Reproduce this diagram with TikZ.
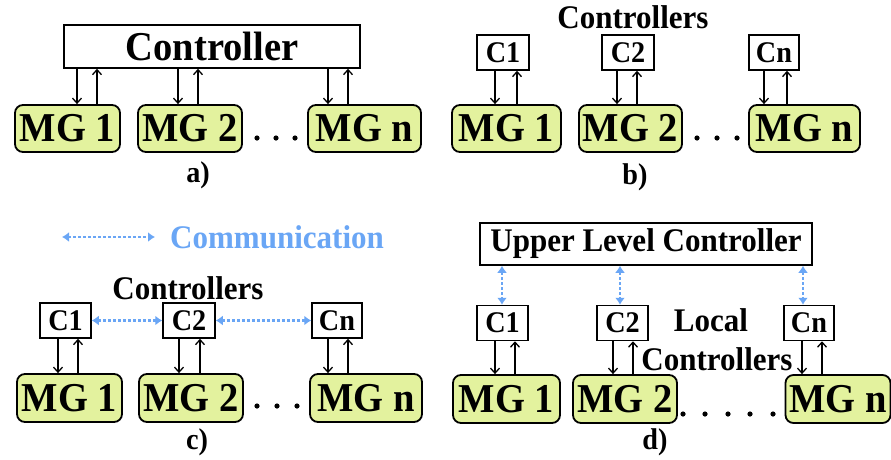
\documentclass[tikz,border=0pt]{standalone}
\usepackage{fontspec}
\setmainfont{Liberation Serif}[BoldFont={Liberation Serif Bold}, BoldFeatures={FakeStretch=0.94}]
\usetikzlibrary{arrows.meta}
\definecolor{mgfill}{RGB}{227,242,158}
\definecolor{comblue}{RGB}{106,166,245}
\tikzset{
  mg/.style={draw=black, line width=1.8pt, fill=mgfill, rounded corners=8pt, minimum height=47pt, inner sep=0pt, font=\fontsize{41}{41}\selectfont\bfseries},
  cbox/.style={draw=black, line width=1.5pt, fill=white, minimum width=51pt, minimum height=35pt, inner sep=0pt, font=\fontsize{30}{30}\selectfont\bfseries},
  bigbox/.style={draw=black, line width=1.5pt, fill=white, inner sep=0pt, font=\fontsize{41}{41}\selectfont\bfseries},
  lbl/.style={inner sep=0pt, font=\fontsize{33}{33}\selectfont\bfseries},
  sublbl/.style={inner sep=0pt, font=\fontsize{30}{30}\selectfont\bfseries},
  arr/.style={line width=1.5pt, -{Straight Barb[length=5pt,width=9pt,line width=1.3pt]}},
  com/.style={comblue, line width=2.5pt, dash pattern=on 2.5pt off 2.5pt, {Latex[length=7pt,width=10pt]}-{Latex[length=7pt,width=10pt]}},
  dotm/.style={fill=black}
}
\begin{document}
\begin{tikzpicture}[x=1pt,y=-1pt]
\useasboundingbox (0,0) rectangle (891,459);
% ---------- panel a ----------
\node[bigbox, minimum width=296pt, minimum height=43pt] (ctrl) at (212,46.5) {Controller};
\node[mg, minimum width=105pt] (a1) at (67.5,128.5) {MG 1};
\node[mg, minimum width=104pt] (a2) at (190,128.5) {MG 2};
\node[mg, minimum width=113pt] (an) at (364.5,128.5) {MG n};
\draw[arr] (77,0 |- ctrl.south) -- (77,0 |- a1.north);
\draw[arr] (97,0 |- a1.north) -- (97,0 |- ctrl.south);
\draw[arr] (178,0 |- ctrl.south) -- (178,0 |- a2.north);
\draw[arr] (198,0 |- a2.north) -- (198,0 |- ctrl.south);
\draw[arr] (328,0 |- ctrl.south) -- (328,0 |- an.north);
\draw[arr] (348,0 |- an.north) -- (348,0 |- ctrl.south);
\foreach \x in {257,276,295} \fill[dotm] (\x,138) circle (2.6);
\node[sublbl] (la) at (198,175) {a)};
% ---------- panel b ----------
\node[lbl] (bctl) at (633,17) {Controllers};
\node[cbox, minimum width=52pt] (b1c) at (503,52.5) {C1};
\node[cbox, minimum width=52pt] (b2c) at (628,52.5) {C2};
\node[cbox, minimum width=50pt] (bnc) at (774,52.5) {Cn};
\node[mg, minimum width=109pt] (b1) at (506.5,128.5) {MG 1};
\node[mg, minimum width=103pt] (b2) at (630.5,128.5) {MG 2};
\node[mg, minimum width=111pt] (bn) at (804.5,128.5) {MG n};
\draw[arr] (495,0 |- b1c.south) -- (495,0 |- b1.north);
\draw[arr] (517,0 |- b1.north) -- (517,0 |- b1c.south);
\draw[arr] (617,0 |- b2c.south) -- (617,0 |- b2.north);
\draw[arr] (637,0 |- b2.north) -- (637,0 |- b2c.south);
\draw[arr] (764,0 |- bnc.south) -- (764,0 |- bn.north);
\draw[arr] (787,0 |- bn.north) -- (787,0 |- bnc.south);
\foreach \x in {697,717,737} \fill[dotm] (\x,138) circle (2.6);
\node[sublbl] (lb) at (635,177) {b)};
% ---------- panel c ----------
\coordinate (comA) at (62,237);
\coordinate (comB) at (155,237);
\draw[com] (comA) -- (comB);
\node[lbl, text=comblue, anchor=west] (comt) at (170,237) {Communication};
\node[lbl] (cctl) at (188,288) {Controllers};
\node[cbox, minimum width=51pt] (c1c) at (65.5,320.5) {C1};
\node[cbox, minimum width=52pt] (c2c) at (189,320.5) {C2};
\node[cbox, minimum width=50pt] (cnc) at (337,320.5) {Cn};
\node[mg, minimum width=105pt, minimum height=48pt] (c1) at (69.5,398) {MG 1};
\node[mg, minimum width=104pt, minimum height=48pt] (c2) at (191,398) {MG 2};
\node[mg, minimum width=112pt, minimum height=48pt] (cn) at (366,398) {MG n};
\draw[com] (c1c.east) -- (c2c.west);
\draw[com] (c2c.east) -- (cnc.west);
\draw[arr] (58,0 |- c1c.south) -- (58,0 |- c1.north);
\draw[arr] (78,0 |- c1.north) -- (78,0 |- c1c.south);
\draw[arr] (179,0 |- c2c.south) -- (179,0 |- c2.north);
\draw[arr] (200,0 |- c2.north) -- (200,0 |- c2c.south);
\draw[arr] (328,0 |- cnc.south) -- (328,0 |- cn.north);
\draw[arr] (348,0 |- cn.north) -- (348,0 |- cnc.south);
\foreach \x in {257,277,297} \fill[dotm] (\x,406) circle (2.6);
\node[sublbl] (lc) at (197,442) {c)};
% ---------- panel d ----------
\node[bigbox, minimum width=332pt, minimum height=42pt, font=\fontsize{33}{33}\selectfont\bfseries] (up) at (646,244) {Upper Level Controller};
\node[cbox, minimum width=51pt] (d1c) at (502.5,323) {C1};
\node[cbox, minimum width=51pt] (d2c) at (622.5,323) {C2};
\node[cbox, minimum width=50pt] (dnc) at (809,323) {Cn};
\node[lbl] (loc1) at (711,320) {Local};
\node[lbl] (loc2) at (717,359) {Controllers};
\node[mg, minimum width=107pt, minimum height=48pt] (d1) at (506.5,399) {MG 1};
\node[mg, minimum width=104pt, minimum height=48pt] (d2) at (625,399) {MG 2};
\node[mg, minimum width=105pt, minimum height=48pt] (dn) at (838,399) {MG n};
\draw[com] (502,0 |- up.south) -- (502,0 |- d1c.north);
\draw[com] (620,0 |- up.south) -- (620,0 |- d2c.north);
\draw[com] (803,0 |- up.south) -- (803,0 |- dnc.north);
\draw[arr] (495,0 |- d1c.south) -- (495,0 |- d1.north);
\draw[arr] (515,0 |- d1.north) -- (515,0 |- d1c.south);
\draw[arr] (613,0 |- d2c.south) -- (613,0 |- d2.north);
\draw[arr] (633,0 |- d2.north) -- (633,0 |- d2c.south);
\draw[arr] (802,0 |- dnc.south) -- (802,0 |- dn.north);
\draw[arr] (822,0 |- dn.north) -- (822,0 |- dnc.south);
\foreach \x in {683,705,728,750,773} \fill[dotm] (\x,414) circle (2.6);
\node[sublbl] (ld) at (655,442) {d)};
\end{tikzpicture}
\end{document}
